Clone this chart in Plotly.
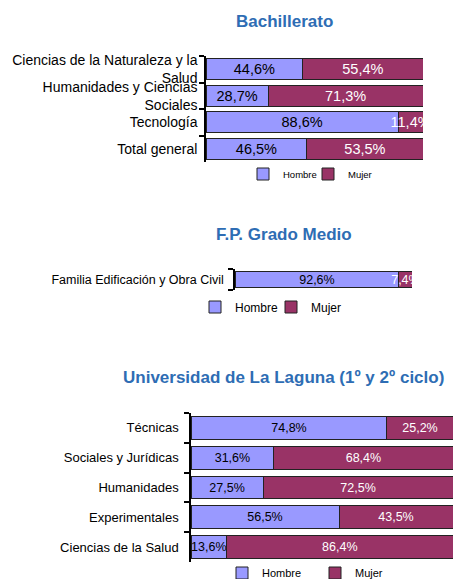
import plotly.graph_objects as go

# ---- data ----
bach_cats = ["Ciencias de la Naturaleza y la<br>Salud", "Humanidades y Ciencias<br>Sociales", "Tecnología", "Total general"]
bach_hombre = [44.6, 28.7, 88.6, 46.5]
bach_mujer = [55.4, 71.3, 11.4, 53.5]

fp_cats = ["Familia Edificación y Obra Civil"]
fp_hombre = [92.6]
fp_mujer = [7.4]

ull_cats = ["Técnicas", "Sociales y Jurídicas", "Humanidades", "Experimentales", "Ciencias de la Salud"]
ull_hombre = [74.8, 31.6, 27.5, 56.5, 13.6]
ull_mujer = [25.2, 68.4, 72.5, 43.5, 86.4]

titles = ["Bachillerato", "F.P. Grado Medio", "Universidad de La Laguna (1º y 2º ciclo)"]

C_H = "#9999FF"
C_M = "#993366"
FONT = "Liberation Sans, Arial, sans-serif"
W, H = 453, 579

def py(p):
    return 1 - p / H

def px(p):
    return p / W

fig = go.Figure()

panels = [
    dict(cats=bach_cats, h=bach_hombre, m=bach_mujer, ax="", leg="legend", tfs=14.5, width=0.8),
    dict(cats=fp_cats, h=fp_hombre, m=fp_mujer, ax="2", leg="legend2", tfs=12.5, width=0.8),
    dict(cats=ull_cats, h=ull_hombre, m=ull_mujer, ax="3", leg="legend3", tfs=12.5, width=0.76),
]

for p in panels:
    for name, vals, col, tcol in [("Hombre", p["h"], C_H, "black"), ("Mujer", p["m"], C_M, "white")]:
        fig.add_trace(go.Bar(
            y=p["cats"], x=vals, name=name, orientation="h",
            marker=dict(color=col, line=dict(color="#222222", width=1)),
            texttemplate="%{x:.1f}%", textposition="inside", insidetextanchor="middle",
            constraintext="none", textangle=0,
            textfont=dict(color=tcol, size=p["tfs"], family=FONT),
            width=p["width"],
            xaxis="x" + p["ax"], yaxis="y" + p["ax"], legend=p["leg"],
            hoverinfo="skip",
        ))

# domains (pixel based)
doms = [
    dict(x=[px(206), px(423)], y=[py(162), py(56)], fs=14, so=4),
    dict(x=[px(235), px(412)], y=[py(290), py(269)], fs=12.5, so=7),
    dict(x=[px(191), 1.0], y=[py(562), py(413)], fs=13, so=8),
]

layout = dict(
    width=W, height=H, margin=dict(l=0, r=0, t=0, b=0, autoexpand=False),
    paper_bgcolor="white", plot_bgcolor="white",
    barmode="stack", separators=",.",
    font=dict(family=FONT, color="black"),
    showlegend=True,
)
for i, d in enumerate(doms):
    s = "" if i == 0 else str(i + 1)
    layout["xaxis" + s] = dict(domain=d["x"], range=[0, 100], visible=False, fixedrange=True,
                               anchor="y" + s)
    layout["yaxis" + s] = dict(domain=d["y"], type="category", autorange="reversed",
                               showline=True, linecolor="black", linewidth=1.5,
                               ticks="outside", tickson="boundaries", ticklen=5, tickcolor="black",
                               tickwidth=1.5, ticklabelstandoff=d["so"],
                               tickfont=dict(size=d["fs"], family=FONT, color="black"),
                               showgrid=False, zeroline=False, anchor="x" + s, fixedrange=True,
                               automargin=False)

layout["legend"] = dict(orientation="h", x=px(308), y=py(174), xanchor="center", yanchor="middle",
                        font=dict(size=9.5), itemwidth=30, entrywidth=20, bgcolor="rgba(0,0,0,0)",
                        traceorder="normal")
layout["legend2"] = dict(orientation="h", x=px(271), y=py(307), xanchor="center", yanchor="middle",
                         font=dict(size=12), itemwidth=30, entrywidth=31, bgcolor="rgba(0,0,0,0)",
                         traceorder="normal")
layout["legend3"] = dict(orientation="h", x=px(315), y=py(573), xanchor="center", yanchor="middle",
                         font=dict(size=11), itemwidth=30, entrywidth=48, bgcolor="rgba(0,0,0,0)",
                         traceorder="normal")

title_y = [22, 234, 377]
title_x = [284, 284, 283]
layout["annotations"] = [
    dict(text="<b>%s</b>" % t, x=px(title_x[i]), y=py(title_y[i]), xref="paper", yref="paper",
         xanchor="center", yanchor="middle", showarrow=False,
         font=dict(size=17, family=FONT, color="#2E6DB4"))
    for i, t in enumerate(titles)
]

fig.update_layout(**layout)
fig.write_html("out.html", config={"displayModeBar": False},
               post_script="document.body.style.margin='0';document.body.style.padding='0';document.body.style.overflow='hidden';")
